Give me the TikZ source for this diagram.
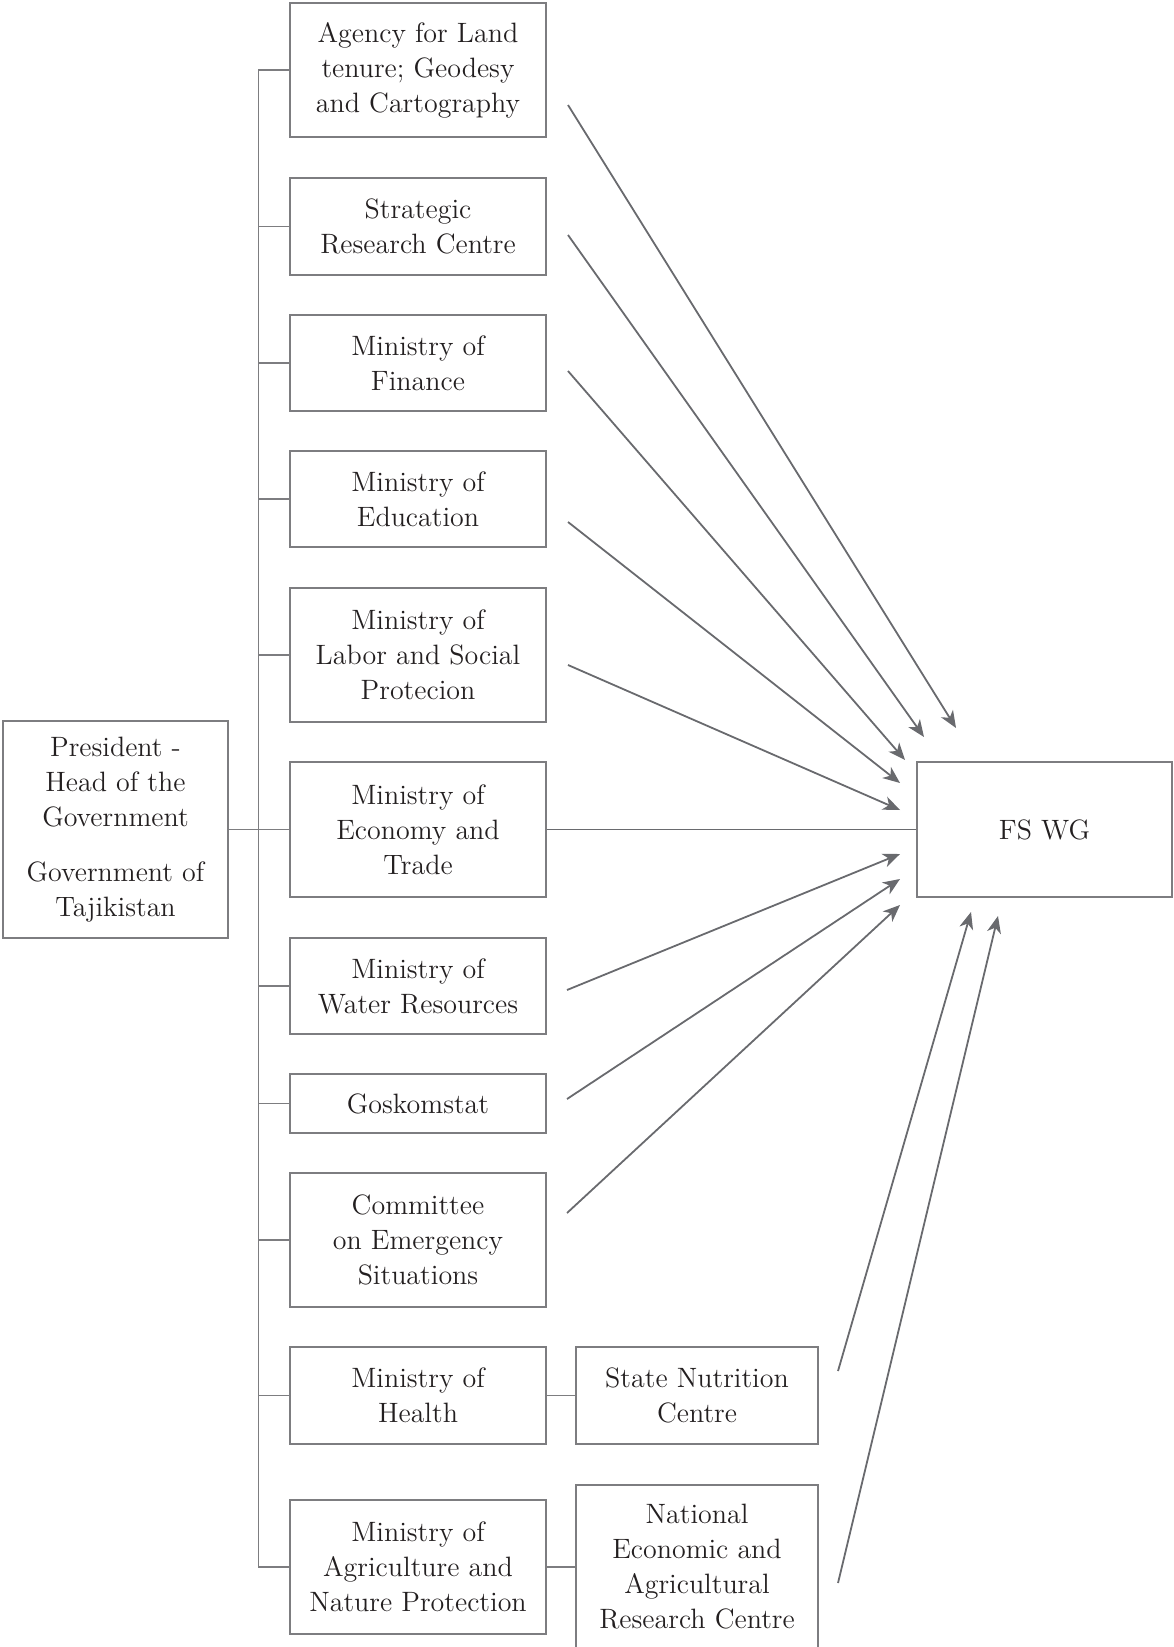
\documentclass[tikz,border=0pt]{standalone}
\usetikzlibrary{arrows.meta}
\definecolor{linegray}{RGB}{105,106,110}
\definecolor{boxgray}{RGB}{125,125,128}
\definecolor{txt}{RGB}{35,31,32}
\begin{document}
\begin{tikzpicture}[x=0.5pt,y=-0.5pt,
  box/.style={draw=boxgray,line width=0.6pt,minimum width=128pt,align=center,
    text=txt,font=\fontsize{14}{17.5}\selectfont,inner sep=0pt},
  link/.style={draw=boxgray,line width=0.6pt},
  arr/.style={draw=linegray,line width=0.9pt,-{Stealth[length=8.5pt,width=7pt,inset=2.5pt]}}]
 \useasboundingbox (0,0) rectangle (1173,1647);
 % head
 \node[box,minimum width=112.5pt,minimum height=108.5pt] (pres) at (115.5,829.5)
    {President -\\Head of the\\Government\\[10pt]Government of\\Tajikistan};
 % ministries
 \node[box,minimum height=67pt] (agency) at (418,70) {Agency for Land\\tenure; Geodesy\\and Cartography};
 \node[box,minimum height=48.5pt] (strat) at (418,226.5) {Strategic\\Research Centre};
 \node[box,minimum height=48pt] (fin) at (418,363) {Ministry of\\Finance};
 \node[box,minimum height=48pt] (edu) at (418,499) {Ministry of\\Education};
 \node[box,minimum height=67pt] (labor) at (418,655) {Ministry of\\Labor and Social\\Protecion};
 \node[box,minimum height=67.5pt] (econ) at (418,829.5) {Ministry of\\Economy and\\Trade};
 \node[box,minimum height=48pt] (water) at (418,986) {Ministry of\\Water Resources};
 \node[box,minimum height=29.5pt] (gosk) at (418,1103.5) {Goskomstat};
 \node[box,minimum height=67pt] (comm) at (418,1240) {Committee\\on Emergency\\Situations};
 \node[box,minimum height=48.5pt] (health) at (418,1395.5) {Ministry of\\Health};
 \node[box,minimum height=67pt] (agri) at (418,1567) {Ministry of\\Agriculture and\\Nature Protection};
 % centres
 \node[box,minimum width=121pt,minimum height=48.5pt] (snc) at (697,1395.5) {State Nutrition\\Centre};
 \node[box,minimum width=121pt,minimum height=82pt] (nat) at (697,1567)
    {National\\Economic and\\Agricultural\\Research Centre};
 \node[box,minimum width=127.5pt,minimum height=67.5pt] (fswg) at (1044.5,829.5) {FS WG};
 % tree lines
 \draw[link] (agency.west) -- ++(-31,0) coordinate (top) -- (top |- agri.west) -- (agri.west);
 \foreach \n in {strat,fin,edu,labor,econ,water,gosk,comm,health}
   \draw[link] (\n.west) -- (\n.west -| top);
 \draw[link] (pres.east) -- (pres.east -| top);
 \draw[link] (health) -- (snc);
 \draw[link] (agri) -- (nat);
 \draw[draw=linegray,line width=0.9pt] (econ) -- (fswg);
 % arrows to the working group
 \foreach \n/\sx/\sy/\ex/\ey in {1/568/105/956/728, 2/568/235/924/737, 3/568/371/905/760,
     4/568/522/900/783, 5/568/665/900/810, 6/567/990/900/854, 7/567/1099/900/879,
     8/567/1213/900/905, 9/838/1371/971/912, 10/838/1583/998/916}
 {
   \coordinate (s\n) at (\sx,\sy);
   \coordinate (e\n) at (\ex,\ey);
   \draw[arr] (s\n) -- (e\n);
 }
\end{tikzpicture}
\end{document}
